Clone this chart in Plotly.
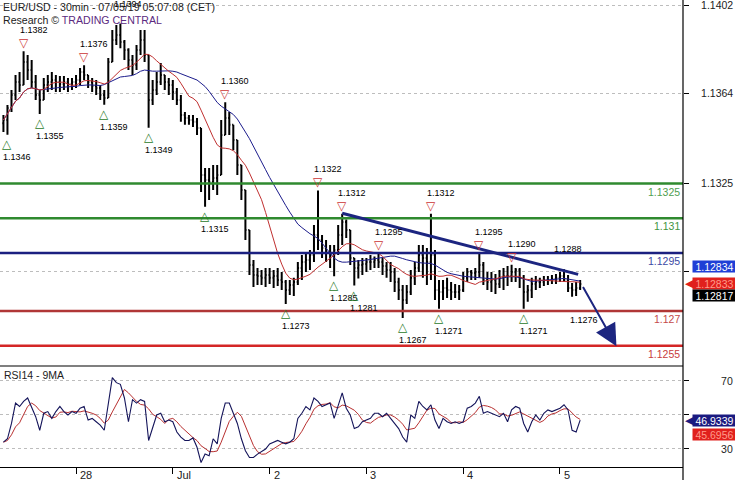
import plotly.graph_objects as go
import pandas as pd

# ---------------- data ----------------
hours = list(range(1, 145))  # hourly samples, hour 0 ~ 27 Jun 05:00 CET

bar_high = [
    1.13546, 1.13589, 1.13653, 1.13718, 1.13731, 1.1382, 1.13804, 1.13783, 1.13718, 1.13653,
    1.13705, 1.13718, 1.13731, 1.13718, 1.13714, 1.13714, 1.13705, 1.13705, 1.13718, 1.13748,
    1.1376, 1.13718, 1.13705, 1.13696, 1.13675, 1.13653, 1.13791, 1.13912, 1.13934, 1.1394,
    1.13869, 1.13834, 1.13804, 1.13847, 1.13912, 1.13912, 1.13783, 1.13696, 1.13731, 1.13770,
    1.13718, 1.13705, 1.13696, 1.13662, 1.13632, 1.13559, 1.13546, 1.13546, 1.13533, 1.13481,
    1.13317, 1.13317, 1.13330, 1.13330, 1.13524, 1.1360, 1.13559, 1.13503, 1.13438, 1.13330,
    1.13222, 1.13028, 1.12920, 1.12886, 1.12877, 1.12886, 1.12886, 1.12877, 1.12886, 1.12868,
    1.12834, 1.12834, 1.12843, 1.12911, 1.12942, 1.12955, 1.12963, 1.13071, 1.1322, 1.13028,
    1.13006, 1.12985, 1.12985, 1.13071, 1.1312, 1.13095, 1.13028, 1.12929, 1.12920, 1.12929,
    1.12929, 1.12942, 1.12935, 1.1295, 1.12929, 1.12911, 1.12911, 1.12886, 1.12843, 1.12812,
    1.12812, 1.12877, 1.12911, 1.12985, 1.12985, 1.12972, 1.1312, 1.12963, 1.12834, 1.12834,
    1.12843, 1.12825, 1.12817, 1.12812, 1.12868, 1.12886, 1.12877, 1.12886, 1.1295, 1.12911,
    1.12868, 1.12868, 1.12860, 1.12877, 1.12886, 1.12894, 1.1290, 1.12885, 1.12886, 1.12855,
    1.12812, 1.12843, 1.12851, 1.12843, 1.12851, 1.12851, 1.12855, 1.12860, 1.12868, 1.1288,
    1.12855, 1.12821, 1.12825, 1.12834,
]

bar_low = [
    1.13472, 1.1346, 1.13559, 1.13610, 1.13645, 1.13675, 1.13696, 1.13662, 1.13610, 1.1355,
    1.13610, 1.13645, 1.13653, 1.13645, 1.13645, 1.13653, 1.13645, 1.13653, 1.13662, 1.13675,
    1.13696, 1.13662, 1.13645, 1.13632, 1.13610, 1.1359, 1.13619, 1.13774, 1.13847, 1.13834,
    1.13783, 1.13740, 1.13718, 1.13740, 1.13804, 1.13774, 1.1349, 1.13589, 1.13632, 1.13675,
    1.13653, 1.13632, 1.13610, 1.13589, 1.13516, 1.13503, 1.13503, 1.13494, 1.13459, 1.13213,
    1.1315, 1.13179, 1.13222, 1.13200, 1.13287, 1.13459, 1.13459, 1.13394, 1.13287, 1.13179,
    1.13006, 1.12855, 1.12804, 1.12812, 1.12812, 1.12804, 1.12817, 1.12799, 1.12808, 1.12791,
    1.1273, 1.12769, 1.12765, 1.12812, 1.12834, 1.12868, 1.12877, 1.12911, 1.12963, 1.12929,
    1.12911, 1.12886, 1.1285, 1.12942, 1.12985, 1.13015, 1.12898, 1.1281, 1.12840, 1.12855,
    1.12868, 1.12877, 1.12886, 1.12886, 1.12855, 1.12843, 1.12825, 1.12782, 1.12747, 1.1267,
    1.12730, 1.12769, 1.12812, 1.12868, 1.12843, 1.12812, 1.12834, 1.12747, 1.1271, 1.12747,
    1.12756, 1.12747, 1.12756, 1.12747, 1.12782, 1.12825, 1.12834, 1.12834, 1.12843, 1.12812,
    1.12791, 1.12782, 1.12773, 1.12799, 1.12791, 1.12808, 1.12825, 1.12825, 1.12799, 1.1271,
    1.12740, 1.12756, 1.12791, 1.12799, 1.12808, 1.12812, 1.12817, 1.12817, 1.12825, 1.12825,
    1.12782, 1.12761, 1.12765, 1.12791,
]

bar_close = [
    1.13524, 1.13576, 1.13632, 1.13688, 1.13675, 1.13774, 1.13740, 1.13688, 1.13632, 1.13610,
    1.13675, 1.13688, 1.13696, 1.13688, 1.13679, 1.13688, 1.13679, 1.13688, 1.13696, 1.13731,
    1.13718, 1.13688, 1.13671, 1.13662, 1.13632, 1.13619, 1.13774, 1.13869, 1.13891, 1.13860,
    1.13826, 1.13783, 1.13761, 1.13826, 1.13869, 1.13804, 1.13610, 1.13653, 1.13688, 1.13718,
    1.13688, 1.13675, 1.13645, 1.13610, 1.13546, 1.13533, 1.13524, 1.13516, 1.13489, 1.13287,
    1.13265, 1.13256, 1.13274, 1.13287, 1.13459, 1.13533, 1.13503, 1.13438, 1.13330, 1.13222,
    1.13049, 1.12898, 1.12855, 1.12851, 1.12843, 1.12855, 1.12843, 1.12851, 1.12834, 1.12825,
    1.12791, 1.12812, 1.12825, 1.12886, 1.12911, 1.12920, 1.12942, 1.13028, 1.13006, 1.12972,
    1.12955, 1.12942, 1.12963, 1.13028, 1.13084, 1.13049, 1.12929, 1.12886, 1.12898, 1.12903,
    1.12911, 1.12911, 1.12920, 1.12911, 1.12894, 1.12877, 1.12868, 1.12825, 1.12791, 1.12747,
    1.12782, 1.12843, 1.12886, 1.12942, 1.12929, 1.12911, 1.12942, 1.12791, 1.12782, 1.12799,
    1.12791, 1.12782, 1.12782, 1.12791, 1.12843, 1.12868, 1.12864, 1.12868, 1.12898, 1.12834,
    1.12825, 1.12834, 1.12817, 1.12843, 1.12851, 1.12851, 1.12868, 1.12877, 1.12843, 1.12782,
    1.12790, 1.12817, 1.12825, 1.12825, 1.12834, 1.12834, 1.12838, 1.12843, 1.12851, 1.12834,
    1.12799, 1.12791, 1.12799, 1.12817,
]
first_open = 1.13510

rsi14 = [
    34, 36, 45, 57, 55, 58, 60, 55, 49, 41,
    51, 52, 48, 52, 55, 52, 50, 52, 51, 54,
    55, 47, 48, 46, 44, 41, 56, 72, 69, 68,
    60, 46, 59, 57, 59, 58, 35, 43, 50, 51,
    46, 47, 46, 40, 37, 35, 35, 36.5, 31, 22,
    27, 26, 36, 33, 48, 57, 57, 51, 45, 36,
    29, 25, 25, 27, 28.5, 30, 33, 34, 35, 34,
    33, 34, 36, 48, 51, 55, 53, 60, 58, 55,
    56, 57, 48, 55, 63, 54, 50, 42, 43, 46,
    47, 48, 51, 51, 49, 51, 48, 45, 42, 37,
    34, 50, 48, 58, 55, 53, 56, 47, 42, 48,
    46, 45, 46, 45, 46, 54, 55, 57, 61, 51,
    52, 51, 50, 49, 51, 46, 53, 55, 54, 45,
    40, 46, 50, 47, 51, 53, 52, 53, 54, 56,
    53, 41, 40, 46.9339,
]

day_ticks = [19, 43, 67, 91, 115, 139]
day_labels = ["28", "Jul", "2", "3", "4", "5"]
price_ticks = [1.1287, 1.1325, 1.1364, 1.1402]
price_tick_labels = ["", "1.1325", "1.1364", "1.1402"]  # 1.1287 is hidden behind the price tags
rsi_ticks = [30, 50, 70]
rsi_tick_labels = ["30", "", "70"]  # 50 is hidden behind the RSI tags

levels = [1.1325, 1.131, 1.1295, 1.127, 1.1255]
level_line_colors = ["#2f8a2f", "#2f8a2f", "#1b2080", "#b03636", "#d42626"]
level_text_colors = ["#4f9e4f", "#3f943f", "#3c4aa4", "#c44a4a", "#c83c3c"]

peak_hours = [6, 21, 56, 79, 85, 94, 107, 119, 127]
peak_values = [1.1382, 1.1376, 1.1360, 1.1322, 1.1312, 1.1295, 1.1312, 1.1295, 1.1290]
trough_hours = [2, 10, 26, 37, 51, 71, 83, 88, 100, 109, 130]
trough_values = [1.1346, 1.1355, 1.1359, 1.1349, 1.1315, 1.1273, 1.1285, 1.1281, 1.1267, 1.1271, 1.1271]
open_peak_hours = [31.8, 141]
open_peak_values = [1.1394, 1.1288]
open_trough_hours = [144.9]
open_trough_values = [1.1276]

trend_hours = [85, 143.5]
trend_prices = [1.13122, 1.12858]
arrow_hours = [144.5, 153.0]
arrow_prices = [1.1281, 1.12548]

price_tags = [1.12834, 1.12833, 1.12817]
rsi_tags = [46.9339, 45.6956]

# ---------------- derived series ----------------
bar_open = [first_open] + bar_close[:-1]
hi = [max(h, o, c) for h, o, c in zip(bar_high, bar_open, bar_close)]
lo = [min(l, o, c) for l, o, c in zip(bar_low, bar_open, bar_close)]
closes = pd.Series(bar_close)
ma_fast = closes.rolling(11, min_periods=1).mean()
ma_slow = closes.rolling(25, min_periods=1).mean()
rsi_ma = pd.Series(rsi14).rolling(5, min_periods=1).mean()

FONT = "Liberation Sans, Arial, sans-serif"
XR = [0.15, 169.5]
SPLIT = (467 - 366) / 467.0

fig = go.Figure()
fig.add_trace(go.Scatter(x=hours, y=ma_slow, mode="lines",
                         line=dict(color="#1c1c8c", width=1), xaxis="x", yaxis="y",
                         hoverinfo="skip"))
fig.add_trace(go.Scatter(x=hours, y=ma_fast, mode="lines",
                         line=dict(color="#c03030", width=1), xaxis="x", yaxis="y",
                         hoverinfo="skip"))
fig.add_trace(go.Ohlc(x=hours, open=bar_open, high=hi, low=lo, close=bar_close,
                      increasing=dict(line=dict(color="black", width=2)),
                      decreasing=dict(line=dict(color="black", width=2)),
                      tickwidth=0.3, xaxis="x", yaxis="y"))
fig.add_trace(go.Scatter(x=hours, y=rsi_ma, mode="lines",
                         line=dict(color="#b83030", width=1), xaxis="x2", yaxis="y2"))
fig.add_trace(go.Scatter(x=hours, y=rsi14, mode="lines",
                         line=dict(color="#14145a", width=1.1), xaxis="x2", yaxis="y2"))

shapes = []
for lv, col in zip(levels, level_line_colors):
    shapes.append(dict(type="line", xref="paper", x0=0, x1=1, yref="y", y0=lv, y1=lv,
                       line=dict(color=col, width=2.5), layer="above"))
shapes.append(dict(type="line", xref="x", yref="y", x0=trend_hours[0], x1=trend_hours[1],
                   y0=trend_prices[0], y1=trend_prices[1],
                   line=dict(color="#1c2580", width=3), layer="above"))
# panel frame lines
shapes.append(dict(type="line", xref="paper", yref="paper", x0=0, x1=1, y0=SPLIT, y1=SPLIT,
                   line=dict(color="black", width=1.2)))
shapes.append(dict(type="line", xref="paper", yref="paper", x0=1, x1=1, y0=-0.03, y1=1,
                   line=dict(color="black", width=1.2)))

ann = []
def txt(**kw):
    d = dict(showarrow=False, font=dict(family=FONT, size=9, color="black"))
    d.update(kw)
    ann.append(d)

for h, v in zip(peak_hours, peak_values):
    txt(x=h, y=v, xref="x", yref="y", text="▽", yshift=8,
        font=dict(family="DejaVu Sans", size=12, color="#cc3333"))
    txt(x=h, y=v, xref="x", yref="y", text=f"{v:.4f}", yshift=21, xanchor="left", xshift=-6)
for h, v in zip(trough_hours, trough_values):
    txt(x=h, y=v, xref="x", yref="y", text="△", yshift=-9,
        font=dict(family="DejaVu Sans", size=12, color="#2a7a2a"))
    txt(x=h, y=v, xref="x", yref="y", text=f"{v:.4f}", yshift=-22, xanchor="left", xshift=-6)
for h, v in zip(open_peak_hours, open_peak_values):
    txt(x=h, y=v, xref="x", yref="y", text=f"{v:.4f}", yshift=20)
for h, v in zip(open_trough_hours, open_trough_values):
    txt(x=h, y=v, xref="x", yref="y", text=f"{v:.4f}", yshift=-23)

for lv, col in zip(levels, level_text_colors):
    txt(x=1, y=lv, xref="paper", yref="y", text=f"{lv:.4f}".rstrip("0"), xanchor="right",
        xshift=-1, yshift=-8, font=dict(family=FONT, size=10.5, color=col))

# forecast arrow
ann.append(dict(x=arrow_hours[1], y=arrow_prices[1], ax=arrow_hours[0], ay=arrow_prices[0],
                xref="x", yref="y", axref="x", ayref="y", text="", showarrow=True,
                arrowhead=2, arrowsize=2.2, arrowwidth=2, arrowcolor="#1c2580"))

# titles
txt(x=0, y=1, xref="paper", yref="paper", xanchor="left", yanchor="middle", xshift=1, yshift=-7,
    text="EUR/USD - 30min - 07/05/19 05:07:08 (CET)", font=dict(family=FONT, size=10.6, color="#222"))
txt(x=0, y=1, xref="paper", yref="paper", xanchor="left", yanchor="middle", xshift=1, yshift=-20,
    text="Research © <span style='color:#5b2a80'>TRADING CENTRAL</span>",
    font=dict(family=FONT, size=10.6, color="#222"))
txt(x=0, y=SPLIT, xref="paper", yref="paper", xanchor="left", yanchor="middle", xshift=2, yshift=-9,
    text="RSI14 - 9MA", font=dict(family=FONT, size=10.5, color="#222"))

# day labels
for d, lab in zip(day_ticks, day_labels):
    txt(x=d, y=0, xref="x2", yref="paper", xanchor="left", yanchor="middle", xshift=2, yshift=-8,
        text=lab, font=dict(family=FONT, size=11, color="#222"))

# price tags
tag_specs = [
    (price_tags[0], "y", 13, "#1f3fd6", "white", False),
    (price_tags[1], "y", -3, "#e0201c", "#ff9a8a", True),
    (price_tags[2], "y", -12, "black", "white", False),
]
for v, yr, ys, bg, fc, ptr in tag_specs:
    txt(x=1, y=v, xref="paper", yref=yr, xanchor="left", xshift=9, yshift=ys,
        text=f"{v:.5f}", bgcolor=bg, width=43, height=11, borderpad=0,
        font=dict(family=FONT, size=10.5, color=fc))
    if ptr:
        txt(x=1, y=v, xref="paper", yref=yr, xanchor="left", xshift=0, yshift=ys,
            text="◀", font=dict(family="DejaVu Sans", size=11, color=bg))
rsi_specs = [
    (rsi_tags[0], 0, "#1a1a80", "white", True),
    (rsi_tags[1], -12, "#e0201c", "#ff9a8a", False),
]
for v, ys, bg, fc, ptr in rsi_specs:
    txt(x=1, y=v, xref="paper", yref="y2", xanchor="left", xshift=9, yshift=ys,
        text=f"{v:.4f}", bgcolor=bg, width=43, height=11, borderpad=0,
        font=dict(family=FONT, size=10.5, color=fc))
    if ptr:
        txt(x=1, y=v, xref="paper", yref="y2", xanchor="left", xshift=0, yshift=ys,
            text="◀", font=dict(family="DejaVu Sans", size=11, color=bg))

grid = dict(showgrid=True, gridcolor="#bdbdbd", griddash="dot", gridwidth=1)
fig.update_layout(
    width=735, height=480, margin=dict(l=0, r=52, t=0, b=13, autoexpand=False),
    paper_bgcolor="white", plot_bgcolor="white", showlegend=False,
    font=dict(family=FONT, size=10.5, color="#222"),
    xaxis=dict(domain=[0, 1], range=XR, anchor="y", showticklabels=False, showgrid=False,
               zeroline=False, showline=False, rangeslider=dict(visible=False)),
    yaxis=dict(domain=[SPLIT, 1], range=[1.124628, 1.140416], side="right", anchor="x",
               tickvals=price_ticks, ticktext=price_tick_labels,
               ticks="outside", ticklen=5, tickcolor="black", zeroline=False,
               ticklabelstandoff=10, ticklabeloverflow="allow", tickfont=dict(size=10.5), **grid),
    xaxis2=dict(domain=[0, 1], range=XR, anchor="y2", matches="x", tickvals=day_ticks,
                ticks="outside", ticklen=6, tickcolor="black", showticklabels=False,
                showgrid=False, zeroline=False, showline=True, linecolor="black", linewidth=1.2),
    yaxis2=dict(domain=[0, SPLIT], range=[19.4, 78.8], side="right", anchor="x2",
                tickvals=rsi_ticks, ticktext=rsi_tick_labels,
                ticks="outside", ticklen=5, tickcolor="black", zeroline=False,
                ticklabelstandoff=30, ticklabeloverflow="allow", tickfont=dict(size=10.5), **grid),
    shapes=shapes, annotations=ann,
)

fig.write_html("out.html", config={"displayModeBar": False},
               post_script="document.body.style.margin='0';document.body.style.overflow='hidden';")
